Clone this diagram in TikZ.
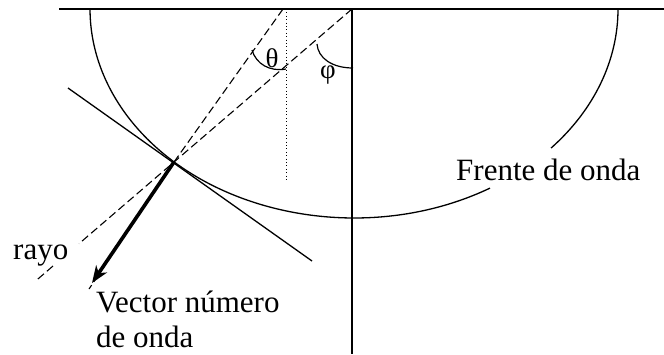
\documentclass[tikz,border=0pt]{standalone}
\usepackage{fontspec}
\setmainfont{Liberation Serif}
\usetikzlibrary{arrows.meta}
\begin{document}
\begin{tikzpicture}[x=1pt,y=-1pt,
  solidline/.style={line width=1.3pt},
  dashline/.style={line width=1.1pt, dash pattern=on 8pt off 4pt},
  dotline/.style={line width=1pt, dash pattern=on 1pt off 2.4pt},
  vecarrow/.style={line width=3.6pt, -{Stealth[length=17pt,width=13pt,inset=5pt]}},
  lbl/.style={inner sep=0pt, font=\fontsize{31}{35}\selectfont},
  greek/.style={inner sep=0pt, font=\fontsize{27}{30}\selectfont}]
\useasboundingbox (0,0) rectangle (664,354);
% key points
\coordinate (L) at (59,9);
\coordinate (R) at (664,9);
\coordinate (O) at (352,9);
\coordinate (B) at (352,354);
\coordinate (T) at (174,162);
\coordinate (N) at (283,9);
\coordinate (Nend) at (89,289);
\coordinate (tip) at (92,283);
\coordinate (tanA) at (68,88);
\coordinate (tanB) at (312,261);
\coordinate (rayA) at (79,243.7);
\coordinate (rayB) at (53,266);
\coordinate (rayC) at (35,281.5);
\coordinate (dotA) at (286,9);
\coordinate (dotB) at (286,180);
% surface and axis
\draw[solidline] (L) -- (R);
\draw[solidline] (O) -- (B);
% wave front (half ellipse, with a gap for its label)
\draw[solidline] (618,9) arc[start angle=0, end angle=41.7, x radius=264, y radius=209];
\draw[solidline] (490,188.1) arc[start angle=59, end angle=180, x radius=264, y radius=209];
% tangent line
\draw[solidline] (tanA) -- (tanB);
% normal (dashed) and vertical reference (dotted)
\draw[dashline] (N) -- (T) -- (Nend);
\draw[dotline] (dotA) -- (dotB);
% ray
\draw[dashline] (O) -- (rayA);
\draw[dashline] (rayB) -- (rayC);
% wave number vector
\draw[vecarrow] (T) -- (tip);
% angle arcs
\draw[line width=1.2pt] (252,50) .. controls (256,64) and (270,72) .. (286,69);
\draw[line width=1.2pt] (317,44) .. controls (318,58) and (332,68) .. (353,68);
\node[greek] (theta) at (272,58) {θ};
\node[greek] (phi) at (328,75) {φ};
% labels
\node[lbl, anchor=base west] (frente) at (456,180) {Frente de onda};
\node[lbl, anchor=base west] (rayo) at (13,259) {rayo};
\node[lbl, anchor=base west] (vector) at (96,312)
  {\begin{tabular}[t]{@{}l@{}}Vector número\\de onda\end{tabular}};
\end{tikzpicture}
\end{document}
